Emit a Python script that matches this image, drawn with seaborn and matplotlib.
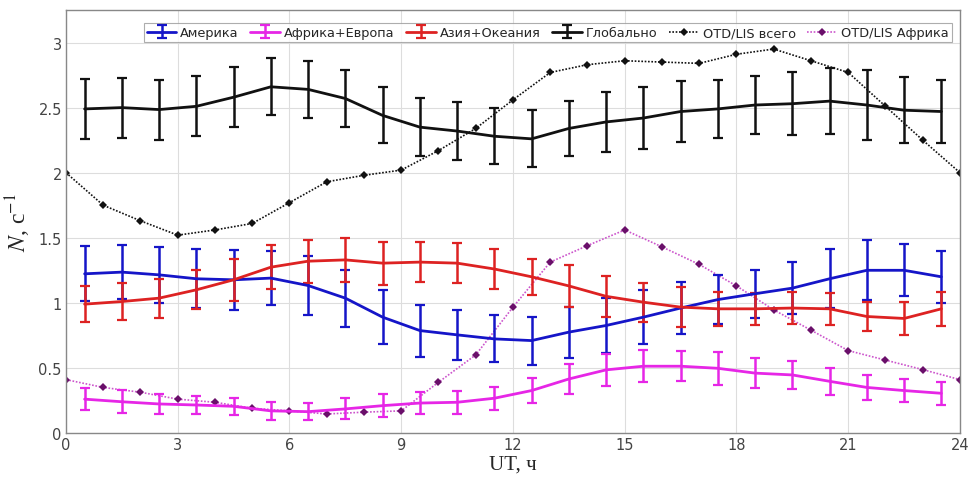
import numpy as np
import pandas as pd
import matplotlib
matplotlib.use("Agg")
import matplotlib.pyplot as plt
import seaborn as sns

# ---- data ----
hours_bin = [h + 0.5 for h in range(24)]
hours_otd = list(range(25))

america = [1.223, 1.236, 1.215, 1.185, 1.177, 1.19, 1.133, 1.036, 0.89, 0.787, 0.754, 0.723,
           0.71, 0.775, 0.826, 0.89, 0.96, 1.025, 1.07, 1.113, 1.185, 1.25, 1.25, 1.20]
america_err = [0.21, 0.21, 0.215, 0.225, 0.23, 0.21, 0.23, 0.22, 0.21, 0.20, 0.19, 0.18,
               0.185, 0.195, 0.21, 0.21, 0.20, 0.19, 0.185, 0.20, 0.225, 0.23, 0.20, 0.20]

afr_eur = [0.26, 0.24, 0.223, 0.215, 0.205, 0.17, 0.164, 0.185, 0.21, 0.23, 0.236, 0.267,
           0.326, 0.415, 0.485, 0.513, 0.513, 0.497, 0.46, 0.446, 0.397, 0.35, 0.326, 0.305]
afr_eur_err = [0.085, 0.087, 0.075, 0.07, 0.067, 0.068, 0.065, 0.08, 0.09, 0.085, 0.087, 0.09,
               0.097, 0.115, 0.125, 0.123, 0.115, 0.125, 0.118, 0.11, 0.105, 0.095, 0.087, 0.088]

asia = [0.99, 1.01, 1.036, 1.10, 1.177, 1.274, 1.32, 1.33, 1.305, 1.313, 1.305, 1.26,
        1.20, 1.13, 1.05, 1.005, 0.967, 0.954, 0.954, 0.96, 0.954, 0.895, 0.88, 0.954]
asia_err = [0.14, 0.14, 0.15, 0.15, 0.16, 0.17, 0.165, 0.17, 0.165, 0.155, 0.155, 0.15,
            0.14, 0.16, 0.16, 0.15, 0.155, 0.13, 0.125, 0.12, 0.125, 0.115, 0.125, 0.13]

globe = [2.49, 2.50, 2.485, 2.51, 2.58, 2.66, 2.64, 2.57, 2.44, 2.35, 2.32, 2.28,
         2.26, 2.34, 2.39, 2.42, 2.47, 2.49, 2.52, 2.53, 2.55, 2.52, 2.48, 2.47]
globe_err = [0.23, 0.23, 0.23, 0.23, 0.23, 0.22, 0.22, 0.22, 0.215, 0.225, 0.225, 0.215,
             0.22, 0.21, 0.23, 0.235, 0.235, 0.225, 0.225, 0.24, 0.255, 0.27, 0.255, 0.24]

otd_total = [2.0, 1.75, 1.63, 1.52, 1.56, 1.61, 1.77, 1.93, 1.98, 2.02, 2.17, 2.34, 2.56,
             2.77, 2.83, 2.86, 2.85, 2.84, 2.91, 2.95, 2.86, 2.77, 2.51, 2.25, 2.0]
otd_africa = [0.41, 0.35, 0.313, 0.26, 0.236, 0.19, 0.17, 0.146, 0.16, 0.17, 0.39, 0.60, 0.967,
              1.313, 1.44, 1.56, 1.43, 1.295, 1.13, 0.946, 0.79, 0.633, 0.56, 0.487, 0.41]

labels = ["Америка", "Африка+Европа", "Азия+Океания", "Глобально",
          "OTD/LIS всего", "OTD/LIS Африка"]
x_ticks = [0, 3, 6, 9, 12, 15, 18, 21, 24]
y_ticks = [0, 0.5, 1, 1.5, 2, 2.5, 3]
y_ticklabels = ["0", "0.5", "1", "1.5", "2", "2.5", "3"]

# ---- plot ----
sns.set_style("whitegrid")
plt.rcParams["font.family"] = ["DejaVu Sans"]
plt.rcParams["mathtext.fontset"] = "stix"

fig = plt.figure(figsize=(9.69, 4.89), dpi=100)
ax = fig.add_axes([0.0681, 0.1125, 0.9226, 0.865])

df_otd = pd.DataFrame({"UT": hours_otd, "total": otd_total, "africa": otd_africa})

sns.lineplot(data=df_otd, x="UT", y="total", ax=ax, color="#111111", lw=1.2,
             linestyle=(0, (1, 1)), marker="D", markersize=4, markeredgewidth=0,
             label=labels[4], zorder=2)
sns.lineplot(data=df_otd, x="UT", y="africa", ax=ax, color="#cc55cc", lw=1.2,
             linestyle=(0, (1, 1)), marker="D", markersize=4.5, markeredgewidth=0,
             markerfacecolor="#6a0f6a", label=labels[5], zorder=2)

series = [(america, america_err, "#1515c8", labels[0]),
          (afr_eur, afr_eur_err, "#e626e6", labels[1]),
          (asia, asia_err, "#dd2222", labels[2]),
          (globe, globe_err, "#111111", labels[3])]
for vals, err, col, lab in series:
    ax.errorbar(hours_bin, vals, yerr=err, color=col, lw=2.0, elinewidth=1.8,
                capsize=3.5, capthick=1.6, label=lab, zorder=3)

ax.set_xlim(0, 24)
ax.set_ylim(0, 3.25)
ax.set_xticks(x_ticks)
ax.set_yticks(y_ticks)
ax.set_yticklabels(y_ticklabels)
ax.tick_params(axis="both", labelsize=10.5, labelcolor="#444444", direction="in",
               length=4, color="#777777", pad=3)
ax.grid(True, color="#dddddd", lw=0.8)
for s in ax.spines.values():
    s.set_color("#888888")
    s.set_linewidth(1.0)

ax.set_xlabel("UT, ч", fontsize=15, family="Liberation Serif", labelpad=2)
ax.set_ylabel(r"$N$, с$^{-1}$", fontsize=17, family="Liberation Serif", labelpad=4)

lh, ll = ax.get_legend_handles_labels()
order = [labels.index(l) for l in ll]
pairs = sorted(zip(order, lh, ll))
leg = ax.legend([p[1] for p in pairs], [p[2] for p in pairs], loc="upper right",
                ncol=6, fontsize=9.3, handlelength=2.3, handletextpad=0.3,
                columnspacing=0.9, borderpad=0.25, frameon=True, fancybox=False,
                bbox_to_anchor=(0.998, 0.985))
leg.get_frame().set_edgecolor("#999999")
leg.get_frame().set_linewidth(0.8)

fig.savefig("out.png", dpi=100)
